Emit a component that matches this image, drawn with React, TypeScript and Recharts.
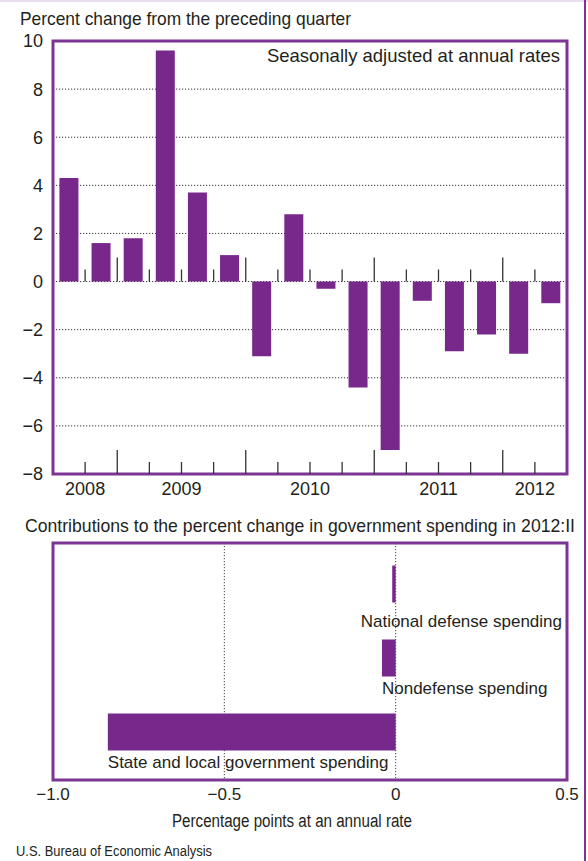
import React from "react";
import {
  BarChart,
  Bar,
  XAxis,
  YAxis,
  CartesianGrid,
  ReferenceArea,
  ReferenceLine,
} from "recharts";

// ---------- data ----------
const quarters = [
  "2008Q3", "2008Q4",
  "2009Q1", "2009Q2", "2009Q3", "2009Q4",
  "2010Q1", "2010Q2", "2010Q3", "2010Q4",
  "2011Q1", "2011Q2", "2011Q3", "2011Q4",
  "2012Q1", "2012Q2",
];
const pctChange = [4.3, 1.6, 1.8, 9.6, 3.7, 1.1, -3.1, 2.8, -0.3, -4.4, -7.0, -0.8, -2.9, -2.2, -3.0, -0.9];
const yTicks = [-8, -6, -4, -2, 0, 2, 4, 6, 8, 10];

const components = ["National defense spending", "Nondefense spending", "State and local government spending"];
const contributions = [-0.01, -0.04, -0.84];
const xTicks = [-1.0, -0.5, 0, 0.5];

// ---------- styles ----------
const PURPLE = "#78288b";
const BORDER = "#7d3594";
const TEXT = "#231f20";
const FONT = "'Liberation Sans', Arial, Helvetica, sans-serif";
const W = 588;
const MARGIN_RIGHT = 21;

// bottom chart geometry
const BOT_TOP = 500;
const BOT_MARGIN = { top: 43, right: MARGIN_RIGHT, left: 53, bottom: 0 };
const BOT_H = 310;
const BOT_XAXIS_H = 30;

const topData = quarters.map((q, i) => ({ q, pos: i + 0.5, v: pctChange[i] }));
const yearOf = (q: string) => q.slice(0, 4);

// quarter boundaries (index positions on a 0..N scale)
const boundaries = quarters.slice(1).map((q, k) => ({
  pos: k + 1,
  long: yearOf(q) !== yearOf(quarters[k]),
}));

// year label positions: center of each year's quarters
const yearGroups: { year: string; pos: number }[] = [];
{
  let start = 0;
  for (let i = 1; i <= quarters.length; i++) {
    if (i === quarters.length || yearOf(quarters[i]) !== yearOf(quarters[start])) {
      yearGroups.push({ year: yearOf(quarters[start]), pos: (start + i) / 2 });
      start = i;
    }
  }
}
const yearPos = yearGroups.map((g) => g.pos);
const yearLabel = (v: number) => {
  const g = yearGroups.find((gg) => Math.abs(gg.pos - v) < 1e-6);
  return g ? g.year : "";
};

const fmtY = (v: number) => (v < 0 ? "\u2212" + Math.abs(v) : String(v));
const fmtX = (v: number) => (v === 0 ? "0" : (v < 0 ? "\u2212" : "") + Math.abs(v).toFixed(1));

const botData = components.map((name, i) => ({ name, v: contributions[i] }));

const BarWithLabel = (props: any) => {
  const { x, y, width, height, payload } = props;
  if (x == null || width == null) return null;
  const left = Math.min(x, x + width);
  const w = Math.abs(width);
  const top = Math.min(y, y + height);
  const h = Math.abs(height);
  const label: string = payload?.name ?? "";
  const estW = label.length * 17 * 0.48;
  const plotRight = W - MARGIN_RIGHT - 5;
  const overflow = left + estW > plotRight;
  return (
    <g>
      <rect x={left} y={top} width={w} height={h} fill={PURPLE} />
      <text
        x={overflow ? plotRight : left}
        y={top + h + (overflow ? 24 : 17)}
        textAnchor={overflow ? "end" : "start"}
        fontSize={17}
        fontFamily={FONT}
        fill={TEXT}
      >
        {label}
      </text>
    </g>
  );
};

export default function App() {
  const botPlotW = W - BOT_MARGIN.left - BOT_MARGIN.right;
  const botPlotH = BOT_H - BOT_MARGIN.top - BOT_MARGIN.bottom - BOT_XAXIS_H;
  return (
    <div style={{ position: "absolute", left: 0, top: 0, width: W, height: 861, background: "#fff", fontFamily: FONT }}>
      <div style={{ position: "absolute", left: 0, top: 0, width: W, height: 2, background: "#eadff0" }} />
      <div style={{ position: "absolute", left: 584, top: 0, width: 2, height: 861, background: BORDER }} />

      <div style={{ position: "absolute", left: 0, top: 0 }}>
        <BarChart
          width={W}
          height={500}
          data={topData}
          margin={{ top: 41, right: MARGIN_RIGHT, left: 0, bottom: 0 }}
          barCategoryGap="20%"
        >
          <CartesianGrid vertical={false} stroke="#333" strokeDasharray="1.2 1.8" />
          <XAxis dataKey="q" hide height={0} />
          <XAxis
            xAxisId="num"
            dataKey="pos"
            type="number"
            scale="linear"
            domain={[0, quarters.length]}
            ticks={yearPos}
            tickFormatter={yearLabel}
            axisLine={false}
            tickLine={false}
            height={26}
            allowDataOverflow
            interval={0}
            tick={{ fontSize: 18, fill: TEXT, fontFamily: FONT }}
          />
          <YAxis
            domain={[-8, 10]}
            ticks={yTicks}
            width={53}
            axisLine={false}
            tickLine={false}
            tickMargin={4}
            interval={0}
            allowDataOverflow
            tickFormatter={fmtY}
            tick={{ fontSize: 18, fill: TEXT, fontFamily: FONT }}
          />
          <Bar dataKey="v" fill={PURPLE} isAnimationActive={false} />
          {boundaries.map((b) => (
            <ReferenceLine
              key={"z" + b.pos}
              xAxisId="num"
              segment={[{ x: b.pos, y: 0 }, { x: b.pos, y: b.long ? 1 : 0.5 }]}
              stroke="#333"
              strokeWidth={1.3}
              ifOverflow="visible"
            />
          ))}
          {boundaries.map((b) => (
            <ReferenceLine
              key={"b" + b.pos}
              xAxisId="num"
              segment={[{ x: b.pos, y: -8 }, { x: b.pos, y: b.long ? -7 : -7.5 }]}
              stroke="#333"
              strokeWidth={1.3}
              ifOverflow="visible"
            />
          ))}
          <ReferenceArea
            xAxisId="num"
            x1={0}
            x2={quarters.length}
            y1={-8}
            y2={10}
            fill="none"
            fillOpacity={0}
            stroke={BORDER}
            strokeWidth={3}
            ifOverflow="visible"
          />
        </BarChart>
      </div>

      <div style={{ position: "absolute", left: 0, top: BOT_TOP }}>
        <BarChart
          layout="vertical"
          width={W}
          height={BOT_H}
          data={botData}
          margin={BOT_MARGIN}
          barCategoryGap="25%"
        >
          <CartesianGrid horizontal={false} stroke="#444" strokeDasharray="1.2 1.8" />
          <XAxis
            type="number"
            domain={[-1, 0.5]}
            ticks={xTicks}
            tickFormatter={fmtX}
            axisLine={false}
            tickLine={false}
            height={BOT_XAXIS_H}
            interval={0}
            allowDataOverflow
            tick={{ fontSize: 17, fill: TEXT, fontFamily: FONT }}
          />
          <YAxis type="category" dataKey="name" hide padding={{ top: 4, bottom: 11 }} />
          <Bar dataKey="v" fill={PURPLE} isAnimationActive={false} shape={BarWithLabel} />
        </BarChart>
      </div>

      <svg
        width={W}
        height={861}
        style={{ position: "absolute", left: 0, top: 0, pointerEvents: "none" }}
        fontFamily={FONT}
        fill={TEXT}
      >
        <rect
          x={BOT_MARGIN.left}
          y={BOT_TOP + BOT_MARGIN.top}
          width={botPlotW}
          height={botPlotH}
          fill="none"
          stroke={BORDER}
          strokeWidth={3}
        />
        <text x={20} y={25} fontSize={19} textLength={331} lengthAdjust="spacingAndGlyphs">
          Percent change from the preceding quarter
        </text>
        <text x={560} y={62} fontSize={18.5} textAnchor="end">
          Seasonally adjusted at annual rates
        </text>
        <text x={25} y={532} fontSize={19} textLength={550} lengthAdjust="spacingAndGlyphs">
          Contributions to the percent change in government spending in 2012:II
        </text>
        <text x={172} y={827} fontSize={18} textLength={240} lengthAdjust="spacingAndGlyphs">
          Percentage points at an annual rate
        </text>
        <text x={16} y={856} fontSize={14} textLength={196} lengthAdjust="spacingAndGlyphs">
          U.S. Bureau of Economic Analysis
        </text>
      </svg>
    </div>
  );
}
